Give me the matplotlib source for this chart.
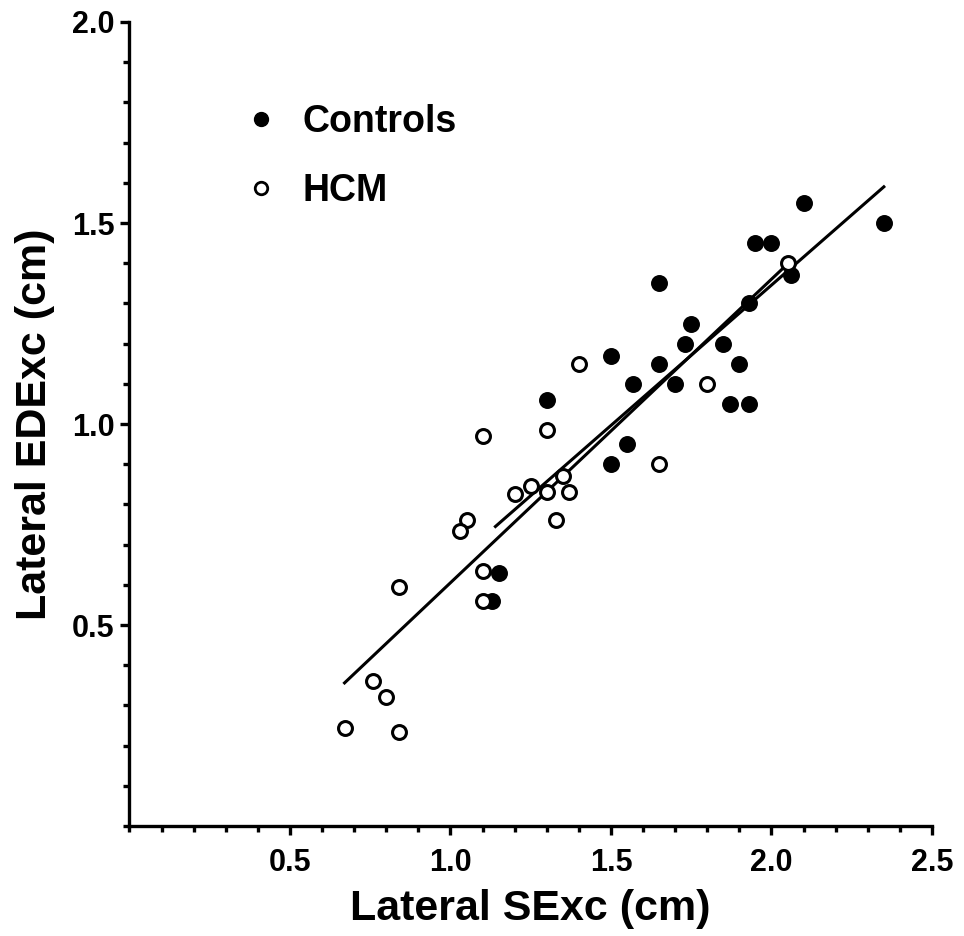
import matplotlib
matplotlib.use("Agg")
import matplotlib.pyplot as plt
from matplotlib.ticker import MultipleLocator, FixedLocator
from matplotlib.lines import Line2D

plt.rcParams['font.family'] = ['Liberation Sans', 'DejaVu Sans']
plt.rcParams['font.weight'] = 'bold'

# Controls (filled circles)
ctrl_x = [1.13, 1.15, 1.30, 1.50, 1.57, 1.65, 1.73, 1.70, 1.85, 1.90, 1.87, 1.93,
          1.55, 1.50, 1.75, 1.65, 2.10, 2.35, 1.95, 2.00, 2.06, 1.93]
ctrl_y = [0.56, 0.63, 1.06, 1.17, 1.10, 1.15, 1.20, 1.10, 1.20, 1.15, 1.05, 1.05,
          0.95, 0.90, 1.25, 1.35, 1.55, 1.50, 1.45, 1.45, 1.37, 1.30]

# HCM (open circles)
hcm_x = [0.76, 0.80, 0.67, 0.84, 0.84, 1.10, 1.30, 1.05, 1.03, 1.20, 1.25, 1.30,
         1.35, 1.37, 1.33, 1.10, 1.10, 1.40, 1.80, 1.65, 2.05]
hcm_y = [0.36, 0.32, 0.245, 0.235, 0.595, 0.97, 0.985, 0.76, 0.735, 0.825, 0.845, 0.83,
         0.87, 0.83, 0.76, 0.635, 0.56, 1.15, 1.10, 0.90, 1.40]

# regression line end points
ctrl_fit_x = [1.14, 2.35]
ctrl_fit_y = [0.745, 1.59]
hcm_fit_x = [0.67, 2.05]
hcm_fit_y = [0.356, 1.398]

fig = plt.figure(figsize=(9.64, 9.36), dpi=100)
ax = fig.add_axes([0.1343, 0.1175, 0.8325, 0.859])

ax.plot(hcm_fit_x, hcm_fit_y, color='black', lw=2.2, zorder=2)
ax.plot(ctrl_fit_x, ctrl_fit_y, color='black', lw=2.2, zorder=2)

ax.scatter(ctrl_x, ctrl_y, s=125, color='black', zorder=3)
ax.scatter(hcm_x, hcm_y, s=100, facecolor='white', edgecolor='black',
           linewidth=2.2, zorder=3)

ax.set_xlim(0, 2.5)
ax.set_ylim(0, 2.0)
ax.xaxis.set_major_locator(FixedLocator([0.5, 1.0, 1.5, 2.0, 2.5]))
ax.yaxis.set_major_locator(FixedLocator([0.5, 1.0, 1.5, 2.0]))
ax.xaxis.set_minor_locator(MultipleLocator(0.1))
ax.yaxis.set_minor_locator(MultipleLocator(0.1))
ax.xaxis.set_major_formatter(plt.FormatStrFormatter('%.1f'))
ax.yaxis.set_major_formatter(plt.FormatStrFormatter('%.1f'))

for s in ['top', 'right']:
    ax.spines[s].set_visible(False)
for s in ['left', 'bottom']:
    ax.spines[s].set_linewidth(2.4)

ax.tick_params(axis='both', which='major', length=6.5, width=2.4, labelsize=22)
ax.tick_params(axis='both', which='minor', length=4.5, width=2.4)
ax.tick_params(axis='y', which='major', pad=4.3)
ax.tick_params(axis='x', which='major', pad=9.4)
for lab in ax.get_xticklabels() + ax.get_yticklabels():
    lab.set_fontweight('bold')

ax.set_xlabel('Lateral SExc (cm)', fontsize=31, fontweight='bold', labelpad=8)
ax.set_ylabel('Lateral EDExc (cm)', fontsize=31, fontweight='bold', labelpad=12)

handles = [
    Line2D([], [], ls='none', marker='o', ms=10, color='black'),
    Line2D([], [], ls='none', marker='o', ms=9, mfc='white', mec='black', mew=2.0),
]
ax.legend(handles, ['Controls', 'HCM'], loc='upper left', bbox_to_anchor=(0.098, 0.9395),
          frameon=False, prop={'size': 27, 'weight': 'bold'},
          handletextpad=0.62, labelspacing=0.88, handlelength=1.0)

fig.savefig('out.png', dpi=100)
